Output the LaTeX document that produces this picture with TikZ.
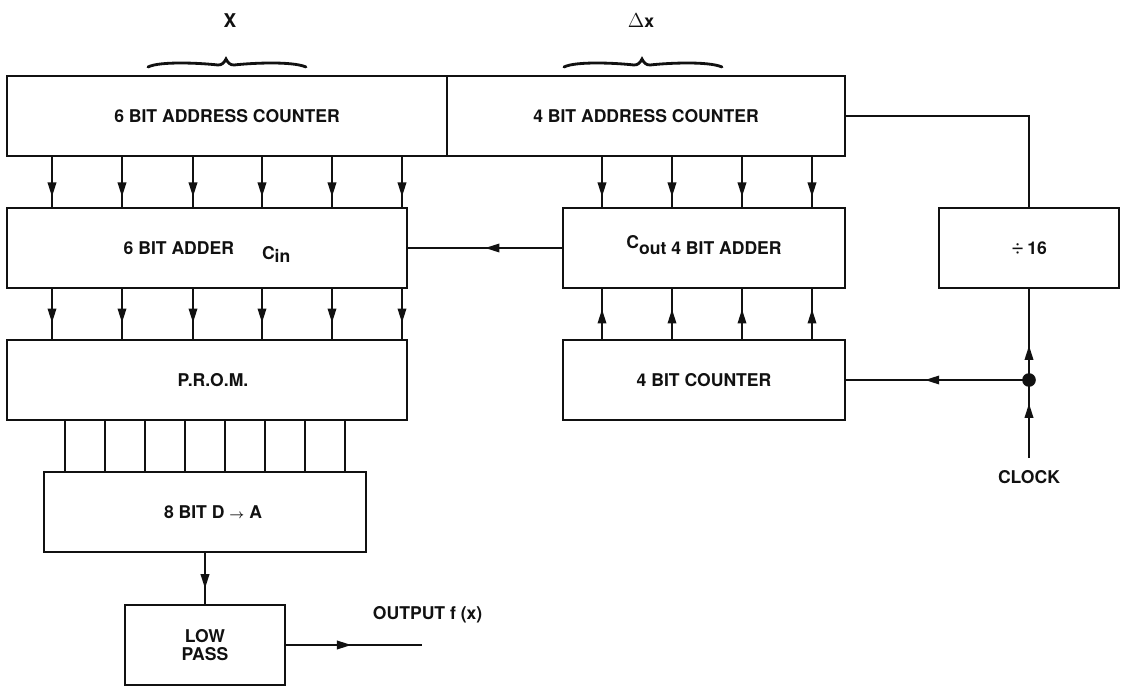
\documentclass[tikz,border=0pt]{standalone}
\usepackage{amsmath,bm}
\usepackage{fontspec}
\setmainfont{TeX Gyre Heros}
\usetikzlibrary{arrows.meta,decorations.markings}
\definecolor{ink}{HTML}{111111}
\tikzset{
  blk/.style={draw=ink, line width=1.7pt, inner sep=0pt, minimum height=2cm},
  wire/.style={draw=ink, line width=1.5pt},
  midarr/.style={postaction={decorate}, decoration={markings, mark=at position #1 with {\arrow{>}}}},
}

\begin{document}
\begin{tikzpicture}[x=0.025cm, y=-0.025cm, font=\fontsize{12.5}{14}\selectfont\bfseries, text=ink,
  >={Triangle[length=3.6mm,width=2.1mm]}]
\useasboundingbox[fill=white] (0,0) rectangle (1126,689);

% top row: the two address counters share one border
\node[blk, minimum width=11cm] (ac6) at (227,116) {6 BIT ADDRESS COUNTER};
\node[blk, minimum width=9.95cm] (ac4) at (646,116) {4 BIT ADDRESS COUNTER};
\node (xlab) at (230,21) {\fontsize{13.5}{14}\selectfont X};
\node (dxlab) at (641,21) {{\mdseries\fontsize{15}{15}\selectfont$\Delta$}x};
% curly braces over the counted bits
\foreach \a in {148,564}{
  \draw[wire, line width=2pt, line cap=round] (\a,67) .. controls (\a+12,61) and (\a+52,63) .. (\a+70,65)
    .. controls (\a+74,65) and (\a+76,63) .. (\a+78,59)
    .. controls (\a+80,63) and (\a+82,65) .. (\a+86,65)
    .. controls (\a+104,63) and (\a+144,61) .. (\a+158,67);
}

% adders and divider
\node[blk, minimum width=10cm] (add6) at (207,248)
  {6 BIT ADDER\hspace{0.7cm}\smash{\raisebox{-0.14cm}{C\raisebox{-0.07cm}{in}}}};
\node[blk, minimum width=7.05cm] (add4) at (704,248)
  {\smash{\raisebox{0.15cm}{C}}out 4 BIT ADDER};
\node[blk, minimum width=4.5cm] (div16) at (1029,248) {{\mdseries\fontsize{16}{16}\selectfont ÷}\,16};

% memory and counter
\node[blk, minimum width=10cm] (prom) at (207,380) {\hspace{0.3cm}P.R.O.M.};
\node[blk, minimum width=7.05cm] (cnt4) at (704,380) {4 BIT COUNTER};

% output chain
\node[blk, minimum width=8.05cm] (da) at (205,512) {\hspace{0.4cm}8 BIT D {\small$\bm{\rightarrow}$} A};
\node[blk, minimum width=4cm, align=center] (lp) at (205,645) {LOW\\[-1pt]PASS};
\node[anchor=west] (outlab) at (368,615) {OUTPUT f (x)};
\coordinate (out) at (422,645);

\node (clock) at (1029,477) {CLOCK};
\coordinate (clk) at (1029,458);
\coordinate (jn) at (div16.south |- cnt4.east);

% buses
\foreach \x in {52,122,193,262,332,402}{
  \draw[wire, midarr=0.8] (\x,0 |- ac6.south) -- (\x,0 |- add6.north);
  \draw[wire, midarr=0.68] (\x,0 |- add6.south) -- (\x,0 |- prom.north);
}
\foreach \x in {602,672,742,812}{
  \draw[wire, midarr=0.8] (\x,0 |- ac4.south) -- (\x,0 |- add4.north);
  \draw[wire, midarr=0.6] (\x,0 |- cnt4.north) -- (\x,0 |- add4.south);
}
\foreach \x in {65,105,...,345}
  \draw[wire] (\x,0 |- prom.south) -- (\x,0 |- da.north);

% single lines
\draw[wire, midarr=0.5] (add4.west) -- (add6.east);
\draw[wire] (ac4.east) -| (div16.north);
\draw[wire, midarr=0.7] (clk) -- (jn);
\draw[wire, midarr=0.38] (jn) -- (div16.south);
\draw[wire, midarr=0.57] (jn) -- (cnt4.east);
\fill[ink] (jn) circle (0.17cm);
\draw[wire, midarr=0.7] (da.south) -- (lp.north);
\draw[wire, midarr=0.48] (lp.east) -- (out);
\end{tikzpicture}
\end{document}
